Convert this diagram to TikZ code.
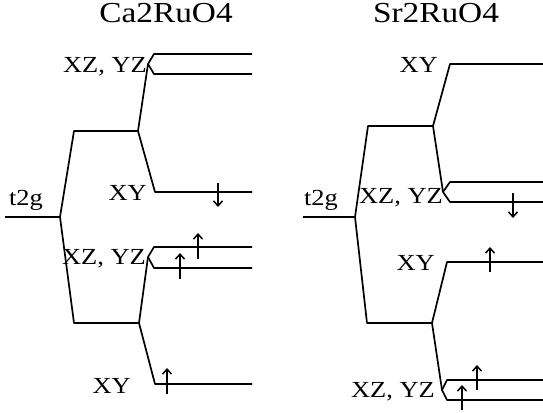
\documentclass[tikz,border=0pt]{standalone}
\usepackage{fontspec}
\setmainfont{Liberation Serif}
\usetikzlibrary{arrows.meta}

\newcommand{\widetext}[1]{\scalebox{1.15}[1]{#1}}

\tikzset{
  level/.style={line width=1.7pt, line join=round},
  spin/.style={line width=1.5pt, -{Straight Barb[length=5pt,width=9pt,line width=1.5pt]}},
  lbl/.style={inner sep=0pt, anchor=base east, font=\fontsize{23}{25}\selectfont},
  ttl/.style={inner sep=0pt, anchor=base, font=\fontsize{29}{31}\selectfont},
}

\begin{document}
\begin{tikzpicture}[x=1pt,y=-1pt]
    \useasboundingbox (0,0) rectangle (543,412);
    % Titles
    \node[ttl] (ca-title) at (166,23) {\widetext{Ca2RuO4}};
    \node[ttl] (sr-title) at (436,23) {\widetext{Sr2RuO4}};

    % Ca2RuO4 levels
    \coordinate (ca-t0) at (5,217);
    \coordinate (ca-t1) at (60,217);
    \coordinate (ca-u0) at (74,131);
    \coordinate (ca-u1) at (138,131);
    \coordinate (ca-d0) at (74,323);
    \coordinate (ca-d1) at (139,323);
    \coordinate (ca-a) at (148,64);
    \coordinate (ca-a1) at (154,54);
    \coordinate (ca-a1e) at (252,54);
    \coordinate (ca-a2) at (154,74);
    \coordinate (ca-a2e) at (252,74);
    \coordinate (ca-b) at (155,192);
    \coordinate (ca-be) at (252,192);
    \coordinate (ca-c) at (148,257);
    \coordinate (ca-c1) at (154,247);
    \coordinate (ca-c1e) at (252,247);
    \coordinate (ca-c2) at (154,268);
    \coordinate (ca-c2e) at (252,268);
    \coordinate (ca-e) at (155,384);
    \coordinate (ca-ee) at (252,384);
    \draw[level] (ca-t0) -- (ca-t1) -- (ca-u0) -- (ca-u1);
    \draw[level] (ca-t1) -- (ca-d0) -- (ca-d1);
    \draw[level] (ca-u1) -- (ca-a);
    \draw[level] (ca-a1e) -- (ca-a1) -- (ca-a) -- (ca-a2) -- (ca-a2e);
    \draw[level] (ca-u1) -- (ca-b) -- (ca-be);
    \draw[level] (ca-d1) -- (ca-c);
    \draw[level] (ca-c1e) -- (ca-c1) -- (ca-c) -- (ca-c2) -- (ca-c2e);
    \draw[level] (ca-d1) -- (ca-e) -- (ca-ee);
    % Ca2RuO4 labels
    \node[lbl] (ca-t2g) at (43,205) {\widetext{t2g}};
    \node[lbl] (ca-la) at (147,72) {\widetext{XZ, YZ}};
    \node[lbl] (ca-lb) at (147,200) {\widetext{XY}};
    \node[lbl] (ca-lc) at (146,264) {\widetext{XZ, YZ}};
    \node[lbl] (ca-le) at (131,393) {\widetext{XY}};
    % Ca2RuO4 spins
    \coordinate (ca-s1a) at (218,183);
    \coordinate (ca-s1b) at (218,207);
    \coordinate (ca-s2a) at (198,259);
    \coordinate (ca-s2b) at (198,233);
    \coordinate (ca-s3a) at (180,279);
    \coordinate (ca-s3b) at (180,253);
    \coordinate (ca-s4a) at (167,394);
    \coordinate (ca-s4b) at (167,368);
    \draw[spin] (ca-s1a) -- (ca-s1b);
    \draw[spin] (ca-s2a) -- (ca-s2b);
    \draw[spin] (ca-s3a) -- (ca-s3b);
    \draw[spin] (ca-s4a) -- (ca-s4b);

    % Sr2RuO4 levels
    \coordinate (sr-t0) at (303,217);
    \coordinate (sr-t1) at (355,217);
    \coordinate (sr-u0) at (368,126);
    \coordinate (sr-u1) at (433,126);
    \coordinate (sr-d0) at (367,323);
    \coordinate (sr-d1) at (432,323);
    \coordinate (sr-a) at (450,64);
    \coordinate (sr-ae) at (543,64);
    \coordinate (sr-b) at (443,192);
    \coordinate (sr-b1) at (450,182);
    \coordinate (sr-b1e) at (543,182);
    \coordinate (sr-b2) at (450,202);
    \coordinate (sr-b2e) at (543,202);
    \coordinate (sr-c) at (447,262);
    \coordinate (sr-ce) at (543,262);
    \coordinate (sr-e) at (442,390);
    \coordinate (sr-e1) at (447,380);
    \coordinate (sr-e1e) at (543,380);
    \coordinate (sr-e2) at (447,400);
    \coordinate (sr-e2e) at (543,400);
    \draw[level] (sr-t0) -- (sr-t1) -- (sr-u0) -- (sr-u1);
    \draw[level] (sr-t1) -- (sr-d0) -- (sr-d1);
    \draw[level] (sr-u1) -- (sr-a) -- (sr-ae);
    \draw[level] (sr-u1) -- (sr-b);
    \draw[level] (sr-b1e) -- (sr-b1) -- (sr-b) -- (sr-b2) -- (sr-b2e);
    \draw[level] (sr-d1) -- (sr-c) -- (sr-ce);
    \draw[level] (sr-d1) -- (sr-e);
    \draw[level] (sr-e1e) -- (sr-e1) -- (sr-e) -- (sr-e2) -- (sr-e2e);
    % Sr2RuO4 labels
    \node[lbl] (sr-t2g) at (338,205) {\widetext{t2g}};
    \node[lbl] (sr-la) at (438,72) {\widetext{XY}};
    \node[lbl] (sr-lb) at (443,203) {\widetext{XZ, YZ}};
    \node[lbl] (sr-lc) at (435,270) {\widetext{XY}};
    \node[lbl] (sr-le) at (435,397) {\widetext{XZ, YZ}};
    % Sr2RuO4 spins
    \coordinate (sr-s1a) at (513,193);
    \coordinate (sr-s1b) at (513,218);
    \coordinate (sr-s2a) at (490,272);
    \coordinate (sr-s2b) at (490,247);
    \coordinate (sr-s3a) at (477,390);
    \coordinate (sr-s3b) at (477,365);
    \coordinate (sr-s4a) at (462,410);
    \coordinate (sr-s4b) at (462,385);
    \draw[spin] (sr-s1a) -- (sr-s1b);
    \draw[spin] (sr-s2a) -- (sr-s2b);
    \draw[spin] (sr-s3a) -- (sr-s3b);
    \draw[spin] (sr-s4a) -- (sr-s4b);
\end{tikzpicture}
\end{document}
